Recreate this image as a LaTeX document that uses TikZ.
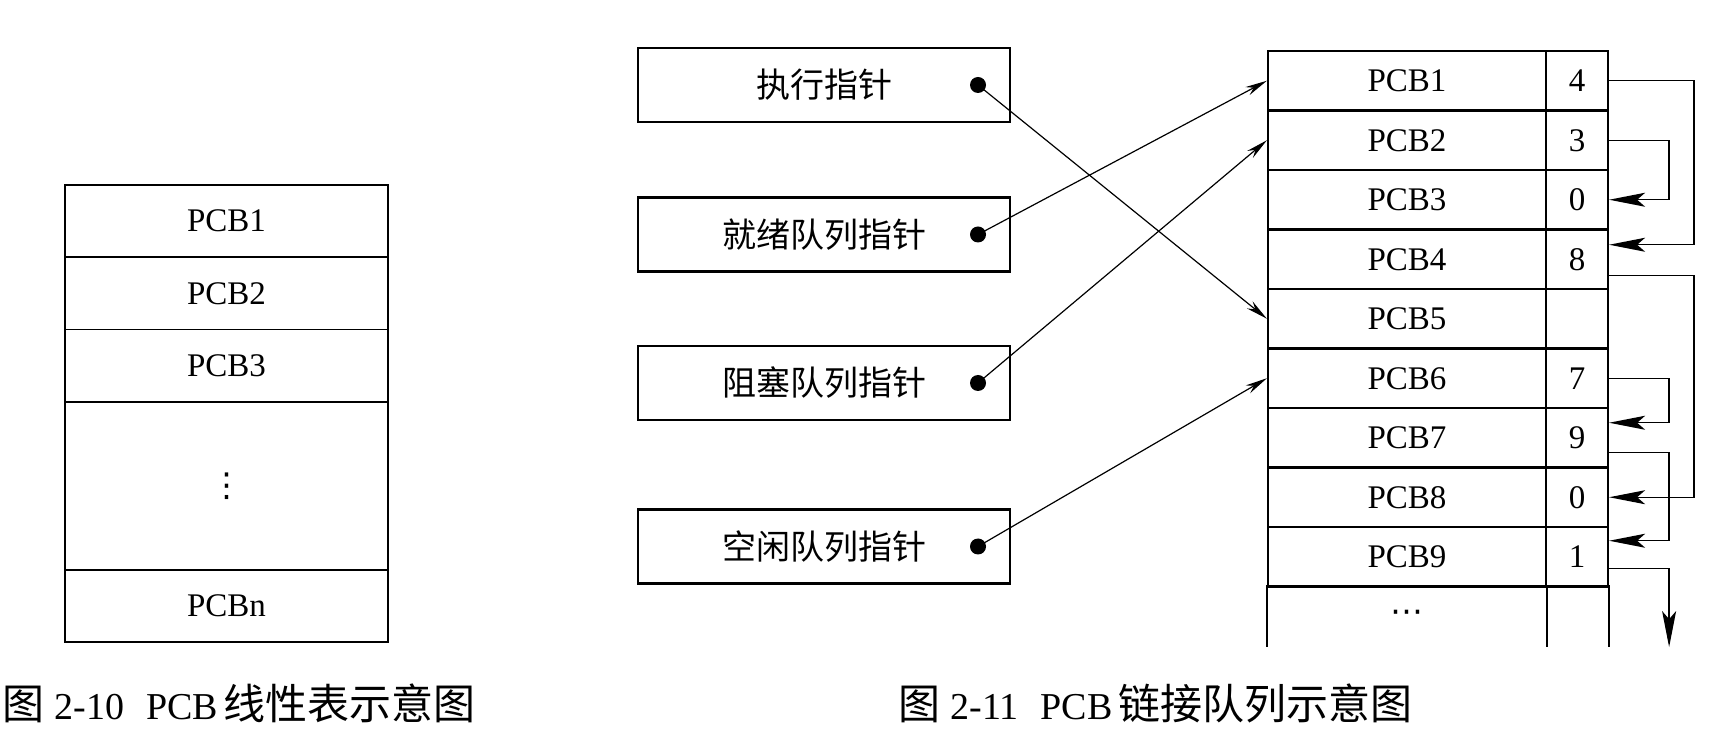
\documentclass[tikz,border=0pt]{standalone}
\usepackage{fontspec}
\setmainfont{Liberation Serif}
\newfontfamily\cjk{Noto Sans CJK SC}
\newfontfamily\symf{DejaVu Sans}
\usetikzlibrary{arrows.meta,calc}
\begin{document}
\begin{tikzpicture}[x=0.5pt,y=-0.5pt,
  pcbfont/.style={font=\fontsize{16.5pt}{18pt}\selectfont},
  lrow/.style={draw, line width=0.9pt, inner sep=0pt, minimum width=161.5pt, minimum height=36.125pt, pcbfont},
  cellbox/.style={draw, line width=1.1pt, inner sep=0pt, minimum height=29.75pt, pcbfont},
  pcbcell/.style={cellbox, minimum width=139pt},
  numcell/.style={cellbox, minimum width=31pt},
  ptrbox/.style={draw, line width=1.1pt, inner sep=0pt, minimum width=186pt, minimum height=37pt, font=\fontsize{17pt}{19pt}\cjk},
  ptrdot/.style={circle, fill=black, inner sep=0pt, minimum size=8pt},
  ptr/.style={-{Stealth[length=11pt,width=4.5pt]}, line width=0.6pt},
  link/.style={-{Stealth[length=18pt,width=7pt,inset=4pt]}, line width=0.65pt},
  caption/.style={anchor=west, inner sep=0pt, font=\fontsize{19pt}{22pt}\selectfont}
]
\useasboundingbox (0,0) rectangle (1724,731);

% ---- Fig 2-10: linear table ----
\node[lrow] (l1) at (226.5,221.1) {PCB1};
\node[lrow] (l2) at (226.5,293.4) {PCB2};
\node[lrow] (l3) at (226.5,365.6) {PCB3};
\node[lrow, minimum height=84.125pt] (l4) at (226.5,485.9) {\symf ⋮};
\node[lrow] (l5) at (226.5,606.1) {PCBn};

% ---- Fig 2-11: pointer boxes ----
\node[ptrbox] (b1) at (824,85) {执行指针};
\node[ptrbox] (b2) at (824,234.5) {就绪队列指针};
\node[ptrbox] (b3) at (824,383) {阻塞队列指针};
\node[ptrbox] (b4) at (824,546.5) {空闲队列指针};
\node[ptrdot] (d1) at (978,85) {};
\node[ptrdot] (d2) at (978,234.5) {};
\node[ptrdot] (d3) at (978,383) {};
\node[ptrdot] (d4) at (978,546.5) {};

% ---- linked table ----
\foreach \i/\v in {1/4,2/3,3/0,4/8,5/{},6/7,7/9,8/0,9/1}{
  \node[pcbcell] (p\i) at (1407,{51+59.5*(\i-0.5)}) {PCB\i};
  \node[numcell] (v\i) at (1577,{51+59.5*(\i-0.5)}) {\v};
}
\node[pcbcell, draw=none] (p10) at (1407,616.25) {\symf ⋯};
\node[numcell, draw=none] (v10) at (1577,616.25) {};
\draw[line width=1.1pt] (p10.north west) -- (p10.south west)
  (p10.north east) -- (p10.south east)
  (v10.north east) -- (v10.south east);

% ---- pointers ----
\draw[ptr] (d1.center) -- (p5.west);
\draw[ptr] (d2.center) -- (p1.west);
\draw[ptr] (d3.center) -- (p2.west);
\draw[ptr] (d4.center) -- (p6.west);

% ---- links ----
\coordinate (end9) at ($(v10.south east)+(60,0)$);
\draw[link] (v1.east) -- ++(85,0) |- ($(v4.east)+(0,-14.5)$);
\draw[link] (v2.east) -- ++(60,0) |- (v3.east);
\draw[link] ($(v4.east)+(0,16)$) -- ++(85,0) |- (v8.east);
\draw[link] (v6.east) -- ++(60,0) |- ($(v7.east)+(0,-15)$);
\draw[link] ($(v7.east)+(0,15)$) -- ++(60,0) |- ($(v9.east)+(0,-16)$);
\draw[link] ($(v9.east)+(0,12)$) -- ++(60,0) -- (end9);

% ---- captions ----
\node[caption] (cap1) at (2,703) {{\fontsize{21pt}{22pt}\cjk 图}\hspace{5pt}2-10\hspace{11pt}PCB\hspace{3pt}{\fontsize{21pt}{22pt}\cjk 线性表示意图}};
\node[caption] (cap2) at (898,703) {{\fontsize{21pt}{22pt}\cjk 图}\hspace{5pt}2-11\hspace{11pt}PCB\hspace{3pt}{\fontsize{21pt}{22pt}\cjk 链接队列示意图}};
\end{tikzpicture}
\end{document}
